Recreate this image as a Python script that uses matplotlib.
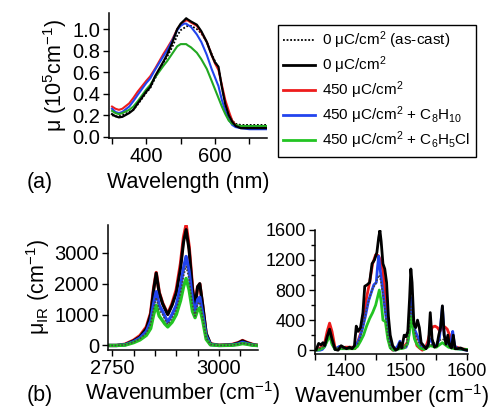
import matplotlib
matplotlib.use("Agg")
import matplotlib.pyplot as plt
from matplotlib.ticker import MultipleLocator, FormatStrFormatter

plt.rcParams["font.family"] = "Liberation Sans"
plt.rcParams["mathtext.fontset"] = "custom"
plt.rcParams["mathtext.rm"] = "Liberation Sans"
plt.rcParams["mathtext.it"] = "Liberation Sans:italic"
plt.rcParams["mathtext.bf"] = "Liberation Sans:bold"
plt.rcParams["mathtext.default"] = "regular"

# ---- (a) UV-vis absorption ----
wl = [300, 310, 320, 330, 350, 362, 375, 400, 411, 425, 450, 460, 475, 490,
      500, 510, 516, 520, 530, 547, 560, 576, 590, 600, 610, 620, 630, 640,
      650, 660, 675, 700, 725, 750]
uv_cast = [0.20, 0.19, 0.19, 0.20, 0.23, 0.25, 0.30, 0.41, 0.45, 0.54, 0.69, 0.74,
           0.83, 0.94, 0.99, 1.01, 1.02, 1.03, 1.03, 1.00, 0.96, 0.88, 0.77, 0.70,
           0.64, 0.46, 0.31, 0.22, 0.15, 0.12, 0.11, 0.11, 0.11, 0.11]
uv_0 = [0.21, 0.19, 0.18, 0.185, 0.22, 0.25, 0.31, 0.42, 0.46, 0.56, 0.70, 0.76,
        0.87, 1.00, 1.05, 1.08, 1.10, 1.09, 1.07, 1.04, 0.98, 0.88, 0.76, 0.69,
        0.65, 0.46, 0.30, 0.20, 0.14, 0.10, 0.08, 0.08, 0.08, 0.08]
uv_450 = [0.28, 0.26, 0.25, 0.26, 0.31, 0.36, 0.42, 0.52, 0.56, 0.63, 0.77, 0.82,
          0.90, 1.00, 1.04, 1.07, 1.08, 1.08, 1.06, 1.03, 0.97, 0.88, 0.76, 0.68,
          0.62, 0.48, 0.34, 0.24, 0.15, 0.11, 0.09, 0.08, 0.08, 0.08]
uv_c8h10 = [0.26, 0.23, 0.22, 0.23, 0.28, 0.33, 0.39, 0.50, 0.54, 0.62, 0.75, 0.80,
            0.89, 0.99, 1.03, 1.05, 1.05, 1.04, 1.02, 0.95, 0.88, 0.76, 0.63, 0.55,
            0.47, 0.34, 0.24, 0.16, 0.11, 0.09, 0.08, 0.07, 0.07, 0.07]
uv_c6h5cl = [0.24, 0.22, 0.21, 0.22, 0.25, 0.28, 0.33, 0.44, 0.48, 0.55, 0.66, 0.70,
             0.77, 0.84, 0.86, 0.86, 0.86, 0.85, 0.83, 0.78, 0.72, 0.63, 0.52, 0.44,
             0.36, 0.28, 0.21, 0.15, 0.12, 0.11, 0.10, 0.10, 0.10, 0.10]

# ---- (b) IR, C-H stretch region ----
wn_ch = [2740, 2760, 2780, 2800, 2815, 2830, 2840, 2847, 2853, 2860, 2868, 2873,
         2880, 2890, 2900, 2910, 2917, 2923, 2930, 2938, 2944, 2950, 2955, 2962,
         2970, 2980, 3000, 3030, 3045, 3055, 3065, 3080, 3090]
ch_cast = [0, 0, 20, 110, 220, 400, 700, 1200, 1550, 1150, 1000, 850, 680, 880, 1150,
           1700, 2250, 2560, 2150, 1300, 950, 1350, 1400, 900, 250, 30, 0, 10, 40, 80,
           50, 10, 0]
ch_0 = [0, 0, 30, 150, 280, 550, 1000, 1800, 2340, 1700, 1350, 1200, 1000, 1300, 1700,
        2500, 3350, 3750, 3100, 1800, 1300, 1900, 2000, 1300, 400, 50, 0, 20, 80, 150,
        90, 20, 0]
ch_450 = [0, 0, 40, 170, 320, 600, 1050, 1850, 2360, 1720, 1370, 1220, 1020, 1350, 1800,
          2650, 3500, 3900, 3200, 1850, 1250, 1900, 1990, 1250, 350, 50, 10, 30, 90, 160,
          100, 30, 10]
ch_c8h10 = [0, 0, 20, 120, 240, 450, 780, 1350, 1740, 1300, 1100, 950, 760, 1000, 1300,
            1900, 2500, 2880, 2400, 1450, 1050, 1480, 1560, 1000, 300, 30, 0, 10, 50,
            100, 60, 10, 0]
ch_c6h5cl = [0, 0, 10, 90, 180, 330, 550, 1000, 1300, 950, 800, 700, 600, 750, 1000,
             1450, 1900, 2170, 1800, 1100, 900, 1150, 1220, 800, 200, 20, 0, 5, 30, 60,
             40, 5, 0]

# ---- (b) IR, fingerprint region ----
fp_0_x = [1352, 1356, 1360, 1363, 1366, 1370, 1374, 1378, 1383, 1388, 1393, 1397, 1402,
          1407, 1411, 1415, 1418, 1421, 1425, 1429, 1432, 1436, 1440, 1444, 1448, 1452,
          1455, 1457, 1459, 1462, 1465, 1468, 1471, 1474, 1478, 1483, 1487, 1490, 1493,
          1497, 1500, 1503, 1506, 1508, 1510, 1513, 1516, 1519, 1522, 1525, 1529, 1533,
          1537, 1540, 1543, 1547, 1551, 1554, 1557, 1560, 1563, 1566, 1569, 1572, 1575,
          1578, 1581, 1585, 1590, 1595, 1600]
fp_0_y = [10, 90, 70, 100, 60, 180, 280, 150, 10, 0, 60, 40, 20, 40, 20, 60, 320, 250,
          300, 500, 850, 870, 900, 1150, 1200, 1300, 1500, 1590, 1450, 1150, 1080, 900,
          450, 200, 60, 0, 20, 100, 30, 200, 180, 250, 700, 1080, 900, 350, 300, 400, 300,
          100, 60, 20, 80, 500, 150, 40, 60, 200, 300, 590, 200, 80, 200, 60, 30, 200, 20,
          20, 30, 10, 0]
fp_450_x = [1352, 1358, 1365, 1370, 1374, 1378, 1383, 1390, 1400, 1410, 1416, 1420, 1425,
            1430, 1435, 1440, 1445, 1450, 1454, 1458, 1462, 1466, 1470, 1474, 1478, 1485,
            1492, 1497, 1502, 1505, 1508, 1511, 1514, 1518, 1522, 1527, 1532, 1536, 1540,
            1544, 1548, 1552, 1556, 1560, 1564, 1568, 1572, 1575, 1578, 1584, 1590, 1600]
fp_450_y = [0, 30, 60, 250, 360, 250, 30, 20, 40, 40, 20, 100, 220, 450, 700, 900, 1150,
            1270, 1260, 1200, 1050, 700, 300, 50, 0, 20, 30, 50, 100, 300, 580, 400, 200,
            60, 30, 0, 30, 120, 250, 310, 320, 300, 250, 300, 310, 280, 200, 80, 30, 40,
            20, 10]
fp_c8h10_x = [1352, 1358, 1362, 1366, 1370, 1374, 1378, 1383, 1390, 1395, 1405, 1412,
              1418, 1423, 1428, 1433, 1438, 1442, 1447, 1451, 1453, 1455, 1457, 1460,
              1463, 1467, 1471, 1475, 1480, 1486, 1490, 1494, 1500, 1503, 1506, 1508,
              1510, 1513, 1517, 1521, 1525, 1530, 1535, 1540, 1545, 1550, 1555, 1560,
              1563, 1567, 1571, 1575, 1577, 1580, 1585, 1600]
fp_c8h10_y = [0, 0, 10, 50, 150, 250, 100, 10, 50, 30, 20, 30, 60, 150, 280, 450, 650,
              750, 870, 900, 1100, 1250, 1100, 900, 700, 450, 200, 30, 0, 50, 120, 30, 40,
              100, 300, 700, 500, 300, 220, 150, 50, 20, 50, 150, 80, 50, 150, 580, 200,
              100, 80, 150, 250, 60, 20, 0]
fp_c6h5cl_x = [1352, 1358, 1365, 1370, 1374, 1378, 1383, 1392, 1405, 1415, 1420, 1425,
               1430, 1435, 1440, 1445, 1450, 1453, 1456, 1459, 1462, 1466, 1470, 1474,
               1480, 1490, 1497, 1502, 1505, 1508, 1511, 1514, 1518, 1523, 1530, 1540,
               1550, 1560, 1570, 1580, 1600]
fp_c6h5cl_y = [0, 10, 40, 120, 200, 80, 10, 20, 20, 20, 50, 120, 200, 320, 420, 500, 600,
               700, 800, 650, 400, 380, 150, 30, 0, 20, 30, 80, 200, 450, 300, 150, 80, 30,
               10, 60, 40, 100, 40, 20, 10]
fp_cast_x = [1352, 1365, 1374, 1380, 1390, 1410, 1420, 1425, 1430, 1435, 1440, 1445, 1450,
             1453, 1456, 1459, 1462, 1466, 1470, 1475, 1485, 1500, 1505, 1508, 1512, 1516,
             1522, 1530, 1560, 1580, 1600]
fp_cast_y = [0, 50, 230, 50, 20, 20, 80, 180, 350, 550, 700, 820, 880, 950, 1000, 900, 750,
             500, 200, 20, 20, 40, 250, 600, 350, 200, 80, 20, 150, 30, 0]

labels = ["0 μC/cm$^2$ (as-cast)", "0 μC/cm$^2$", "450 μC/cm$^2$",
          "450 μC/cm$^2$ + C$_8$H$_{10}$", "450 μC/cm$^2$ + C$_6$H$_5$Cl"]

RED = "#ee1c1c"
BLUE = "#2244ee"
GREEN = "#22a822"
GREEN2 = "#22c422"
FS = 14.5    # tick labels
LFS = 15.5   # axis labels


def style_axes(ax, size=FS):
    for side in ("top", "right"):
        ax.spines[side].set_visible(False)
    for side in ("left", "bottom"):
        ax.spines[side].set_linewidth(1.1)
    ax.tick_params(which="both", direction="out", width=1, labelsize=size, pad=2.5)
    ax.tick_params(which="major", length=4)
    ax.tick_params(which="minor", length=4)


fig = plt.figure(figsize=(4.93, 4.09), dpi=100)

# (a)
ax1 = fig.add_axes([0.221, 0.663, 0.321, 0.305])
ax1.plot(wl, uv_cast, color="black", lw=1.3, ls=(0, (1, 1)))
ax1.plot(wl, uv_450, color=RED, lw=1.5)
ax1.plot(wl, uv_c8h10, color=BLUE, lw=1.5)
ax1.plot(wl, uv_c6h5cl, color=GREEN, lw=1.5)
ax1.plot(wl, uv_0, color="black", lw=1.6)
ax1.set_xlim(291, 752)
ax1.set_ylim(-0.01, 1.148)
ax1.xaxis.set_major_locator(MultipleLocator(200))
ax1.xaxis.set_minor_locator(MultipleLocator(100))
ax1.yaxis.set_major_locator(MultipleLocator(0.2))
ax1.yaxis.set_major_formatter(FormatStrFormatter("%.1f"))
style_axes(ax1)
ax1.set_xlabel("Wavelength (nm)", fontsize=LFS, labelpad=4.5)
ax1.set_ylabel("μ (10$^5$cm$^{-1}$)", fontsize=LFS, labelpad=2)

# (b) left
ax2 = fig.add_axes([0.219, 0.144, 0.304, 0.306])
ax2.plot(wn_ch, ch_450, color=RED, lw=2.4)
ax2.plot(wn_ch, ch_0, color="black", lw=2.2)
ax2.plot(wn_ch, ch_c8h10, color=BLUE, lw=2.4)
ax2.plot(wn_ch, ch_c6h5cl, color=GREEN2, lw=2.4)
ax2.plot(wn_ch, ch_cast, color="#444444", lw=1.2, ls=(0, (1, 1)))
ax2.set_xlim(2740, 3091)
ax2.set_ylim(-150, 3900)
ax2.xaxis.set_major_locator(MultipleLocator(250))
ax2.xaxis.set_minor_locator(MultipleLocator(50))
ax2.yaxis.set_major_locator(MultipleLocator(1000))
style_axes(ax2)
ax2.set_xlabel("Wavenumber (cm$^{-1}$)", fontsize=LFS, labelpad=1)
ax2.set_ylabel("μ$_{IR}$ (cm$^{-1}$)", fontsize=LFS, labelpad=2)

# (b) right
ax3 = fig.add_axes([0.639, 0.134, 0.31, 0.304])
ax3.plot(fp_450_x, fp_450_y, color=RED, lw=2.0)
ax3.plot(fp_c8h10_x, fp_c8h10_y, color=BLUE, lw=2.0)
ax3.plot(fp_c6h5cl_x, fp_c6h5cl_y, color=GREEN2, lw=2.0)
ax3.plot(fp_cast_x, fp_cast_y, color="#444444", lw=1.2, ls=(0, (1, 1)))
ax3.plot(fp_0_x, fp_0_y, color="black", lw=2.0)
ax3.set_xlim(1350, 1602)
ax3.set_ylim(-53, 1600)
ax3.xaxis.set_major_locator(MultipleLocator(100))
ax3.xaxis.set_minor_locator(MultipleLocator(50))
ax3.yaxis.set_major_locator(MultipleLocator(400))
ax3.yaxis.set_minor_locator(MultipleLocator(200))
style_axes(ax3, size=13)
ax3.tick_params(axis="y", which="minor", length=3)
ax3.set_xlabel("Wavenumber (cm$^{-1}$)", fontsize=LFS, labelpad=1)

# legend
handles = [
    plt.Line2D([], [], color="black", lw=1.3, ls=(0, (1, 1))),
    plt.Line2D([], [], color="black", lw=2),
    plt.Line2D([], [], color=RED, lw=2),
    plt.Line2D([], [], color=BLUE, lw=2),
    plt.Line2D([], [], color=GREEN2, lw=2),
]
leg = fig.legend(handles, labels, loc="upper left", bbox_to_anchor=(0.564, 0.94),
                 fontsize=11, fancybox=False, edgecolor="black", framealpha=1,
                 handlelength=2.1, handletextpad=0.45, labelspacing=0.22,
                 borderpad=0.35, borderaxespad=0)
leg.get_frame().set_linewidth(1.0)

fig.text(0.055, 0.553, "(a)", fontsize=LFS, va="center")
fig.text(0.055, 0.034, "(b)", fontsize=LFS, va="center")

fig.savefig("out.png", dpi=100)
